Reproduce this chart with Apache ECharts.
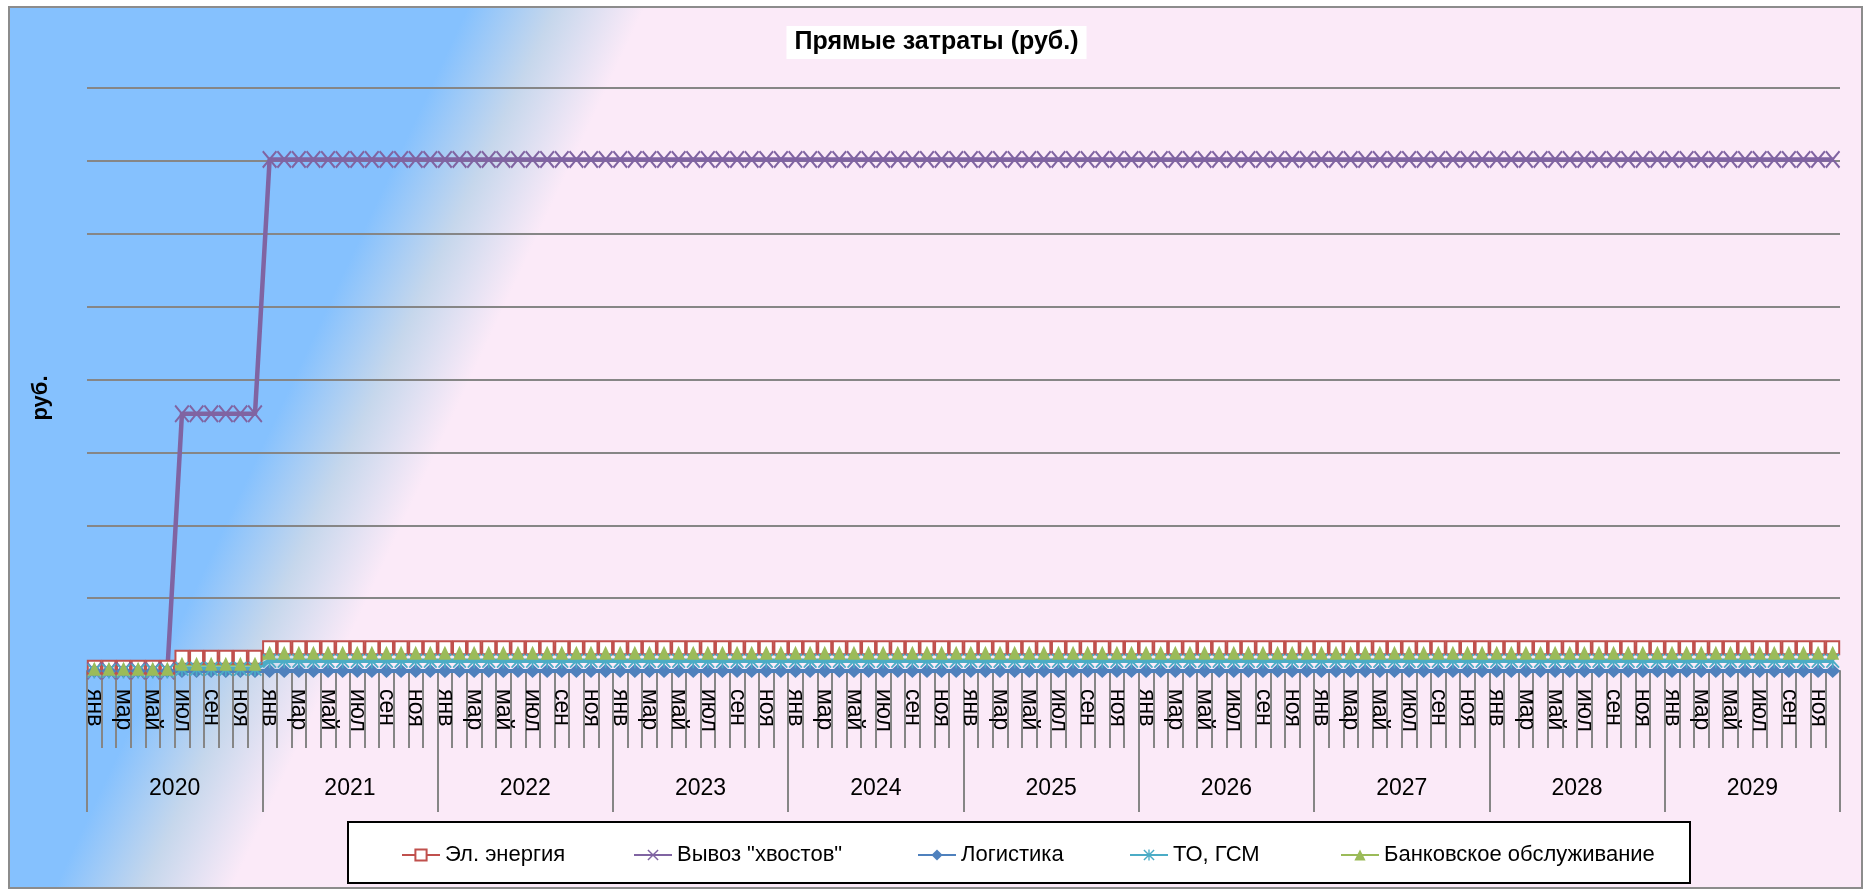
<!DOCTYPE html>
<html>
<head>
<meta charset="utf-8">
<title>Прямые затраты</title>
<script src="https://cdn.jsdelivr.net/npm/echarts@6/dist/echarts.min.js"></script>
<style>
  html, body { margin: 0; padding: 0; background: #ffffff; }
  #chart { width: 1873px; height: 890px; }
</style>
</head>
<body>
<div id="chart"></div>
<script>
// подписи оси
const months = ['янв', 'фев', 'мар', 'апр', 'май', 'июн', 'июл', 'авг', 'сен', 'окт', 'ноя', 'дек'];
const years = ['2020', '2021', '2022', '2023', '2024', '2025', '2026', '2027', '2028', '2029'];
const seriesNames = ['Эл. энергия', 'Вывоз "хвостов"', 'Логистика', 'ТО, ГСМ', 'Банковское обслуживание'];

// значения по месяцам (руб.), строка = год
const energy = [
  5000, 5000, 5000, 5000, 5000, 5000, 19000, 19000, 19000, 19000, 19000, 19000,
  32000, 32000, 32000, 32000, 32000, 32000, 32000, 32000, 32000, 32000, 32000, 32000,
  32000, 32000, 32000, 32000, 32000, 32000, 32000, 32000, 32000, 32000, 32000, 32000,
  32000, 32000, 32000, 32000, 32000, 32000, 32000, 32000, 32000, 32000, 32000, 32000,
  32000, 32000, 32000, 32000, 32000, 32000, 32000, 32000, 32000, 32000, 32000, 32000,
  32000, 32000, 32000, 32000, 32000, 32000, 32000, 32000, 32000, 32000, 32000, 32000,
  32000, 32000, 32000, 32000, 32000, 32000, 32000, 32000, 32000, 32000, 32000, 32000,
  32000, 32000, 32000, 32000, 32000, 32000, 32000, 32000, 32000, 32000, 32000, 32000,
  32000, 32000, 32000, 32000, 32000, 32000, 32000, 32000, 32000, 32000, 32000, 32000,
  32000, 32000, 32000, 32000, 32000, 32000, 32000, 32000, 32000, 32000, 32000, 32000
];
const tailings = [
  0, 0, 0, 0, 0, 0, 353000, 353000, 353000, 353000, 353000, 353000,
  702000, 702000, 702000, 702000, 702000, 702000, 702000, 702000, 702000, 702000, 702000, 702000,
  702000, 702000, 702000, 702000, 702000, 702000, 702000, 702000, 702000, 702000, 702000, 702000,
  702000, 702000, 702000, 702000, 702000, 702000, 702000, 702000, 702000, 702000, 702000, 702000,
  702000, 702000, 702000, 702000, 702000, 702000, 702000, 702000, 702000, 702000, 702000, 702000,
  702000, 702000, 702000, 702000, 702000, 702000, 702000, 702000, 702000, 702000, 702000, 702000,
  702000, 702000, 702000, 702000, 702000, 702000, 702000, 702000, 702000, 702000, 702000, 702000,
  702000, 702000, 702000, 702000, 702000, 702000, 702000, 702000, 702000, 702000, 702000, 702000,
  702000, 702000, 702000, 702000, 702000, 702000, 702000, 702000, 702000, 702000, 702000, 702000,
  702000, 702000, 702000, 702000, 702000, 702000, 702000, 702000, 702000, 702000, 702000, 702000
];
const logistics = [
  0, 0, 0, 0, 0, 0, 0, 0, 0, 0, 0, 0,
  0, 0, 0, 0, 0, 0, 0, 0, 0, 0, 0, 0,
  0, 0, 0, 0, 0, 0, 0, 0, 0, 0, 0, 0,
  0, 0, 0, 0, 0, 0, 0, 0, 0, 0, 0, 0,
  0, 0, 0, 0, 0, 0, 0, 0, 0, 0, 0, 0,
  0, 0, 0, 0, 0, 0, 0, 0, 0, 0, 0, 0,
  0, 0, 0, 0, 0, 0, 0, 0, 0, 0, 0, 0,
  0, 0, 0, 0, 0, 0, 0, 0, 0, 0, 0, 0,
  0, 0, 0, 0, 0, 0, 0, 0, 0, 0, 0, 0,
  0, 0, 0, 0, 0, 0, 0, 0, 0, 0, 0, 0
];
const fuel = [
  0, 0, 0, 0, 0, 0, 3000, 3000, 3000, 3000, 3000, 3000,
  14000, 14000, 14000, 14000, 14000, 14000, 14000, 14000, 14000, 14000, 14000, 14000,
  14000, 14000, 14000, 14000, 14000, 14000, 14000, 14000, 14000, 14000, 14000, 14000,
  14000, 14000, 14000, 14000, 14000, 14000, 14000, 14000, 14000, 14000, 14000, 14000,
  14000, 14000, 14000, 14000, 14000, 14000, 14000, 14000, 14000, 14000, 14000, 14000,
  14000, 14000, 14000, 14000, 14000, 14000, 14000, 14000, 14000, 14000, 14000, 14000,
  14000, 14000, 14000, 14000, 14000, 14000, 14000, 14000, 14000, 14000, 14000, 14000,
  14000, 14000, 14000, 14000, 14000, 14000, 14000, 14000, 14000, 14000, 14000, 14000,
  14000, 14000, 14000, 14000, 14000, 14000, 14000, 14000, 14000, 14000, 14000, 14000,
  14000, 14000, 14000, 14000, 14000, 14000, 14000, 14000, 14000, 14000, 14000, 14000
];
const banking = [
  3000, 3000, 3000, 3000, 3000, 3000, 10000, 10000, 10000, 10000, 10000, 10000,
  25000, 25000, 25000, 25000, 25000, 25000, 25000, 25000, 25000, 25000, 25000, 25000,
  25000, 25000, 25000, 25000, 25000, 25000, 25000, 25000, 25000, 25000, 25000, 25000,
  25000, 25000, 25000, 25000, 25000, 25000, 25000, 25000, 25000, 25000, 25000, 25000,
  25000, 25000, 25000, 25000, 25000, 25000, 25000, 25000, 25000, 25000, 25000, 25000,
  25000, 25000, 25000, 25000, 25000, 25000, 25000, 25000, 25000, 25000, 25000, 25000,
  25000, 25000, 25000, 25000, 25000, 25000, 25000, 25000, 25000, 25000, 25000, 25000,
  25000, 25000, 25000, 25000, 25000, 25000, 25000, 25000, 25000, 25000, 25000, 25000,
  25000, 25000, 25000, 25000, 25000, 25000, 25000, 25000, 25000, 25000, 25000, 25000,
  25000, 25000, 25000, 25000, 25000, 25000, 25000, 25000, 25000, 25000, 25000, 25000
];

// 120 месяцев: янв..дек по каждому году
const categories = [];
years.forEach(function (y) {
  months.forEach(function (m) { categories.push(m); });
});

const FONT = '"Liberation Sans", Arial, sans-serif';
const GRAY = '#868686';
const xMark = 'path://M0,0.9L0.9,0L5,4.1L9.1,0L10,0.9L5.9,5L10,9.1L9.1,10L5,5.9L0.9,10L0,9.1L4.1,5Z';
const starMark = 'path://M0,0.9L0.9,0L5,4.1L9.1,0L10,0.9L5.9,5L10,9.1L9.1,10L5,5.9L0.9,10L0,9.1L4.1,5Z M4.4,0L5.6,0L5.6,10L4.4,10Z';

const legendLeft = [396, 628, 912, 1124, 1335];

let myChart = echarts.init(document.getElementById('chart'));
myChart.setOption({
  animation: false,
  title: {
    text: 'Прямые затраты (руб.)',
    left: 'center',
    top: 26,
    backgroundColor: '#ffffff',
    padding: [4, 8],
    textStyle: { fontFamily: FONT, fontSize: 25, fontWeight: 'bold', color: '#000' }
  },
  legend: seriesNames.map(function (name, i) {
    return {
      data: [name],
      left: legendLeft[i],
      top: 839,
      itemWidth: 38,
      itemHeight: 14,
      textStyle: { fontFamily: FONT, fontSize: 22, color: '#000' }
    };
  }),
  graphic: [
    {
      type: 'rect',
      z: -10,
      silent: true,
      shape: { x: 9, y: 7, width: 1853, height: 881 },
      style: {
        fill: new echarts.graphic.LinearGradient(280, 408, 425, 476, [
          { offset: 0, color: '#85C1FE' },
          { offset: 0.5, color: '#C6D7EC' },
          { offset: 1, color: '#FBEAF8' }
        ], true),
        stroke: '#8C8C8C',
        lineWidth: 2
      }
    },
    {
      type: 'rect',
      z: 3,
      silent: true,
      shape: { x: 348, y: 822, width: 1342, height: 61 },
      style: { fill: '#ffffff', stroke: '#000000', lineWidth: 2 }
    },
    {
      type: 'text',
      x: 41,
      y: 398,
      rotation: Math.PI / 2,
      silent: true,
      style: {
        text: 'руб.',
        fontFamily: FONT,
        fontSize: 22,
        fontWeight: 'bold',
        fill: '#000',
        align: 'center',
        verticalAlign: 'middle'
      }
    }
  ],
  grid: {
    left: 87,
    right: 33,
    top: 88,
    bottom: 219,
    containLabel: false,
    outerBoundsMode: 'none'
  },
  xAxis: [
    {
      type: 'category',
      data: categories,
      boundaryGap: true,
      position: 'bottom',
      axisLine: { show: true, lineStyle: { color: GRAY, width: 2 } },
      axisTick: { show: true, interval: 0, length: 77, lineStyle: { color: GRAY, width: 2 } },
      axisLabel: {
        interval: 1,
        rotate: -90,
        margin: 18,
        fontFamily: FONT,
        fontSize: 23,
        color: '#000'
      },
      splitLine: { show: false }
    },
    {
      type: 'category',
      data: years,
      boundaryGap: true,
      position: 'bottom',
      offset: 0,
      axisLine: { show: false },
      axisTick: { show: true, interval: 0, length: 141, lineStyle: { color: GRAY, width: 2 } },
      axisLabel: { interval: 0, margin: 106, fontFamily: FONT, fontSize: 23, color: '#000' },
      splitLine: { show: false }
    }
  ],
  yAxis: {
    type: 'value',
    min: 0,
    max: 800000,
    interval: 100000,
    axisLine: { show: false },
    axisTick: { show: false },
    axisLabel: { show: false },
    splitLine: { show: true, lineStyle: { color: GRAY, width: 2 } }
  },
  series: [
    {
      name: seriesNames[0],
      type: 'line',
      data: energy,
      symbol: 'rect',
      symbolSize: 13,
      showAllSymbol: true,
      lineStyle: { color: '#C0504D', width: 4 },
      itemStyle: { color: '#ffffff', borderColor: '#C0504D', borderWidth: 2 }
    },
    {
      name: seriesNames[1],
      type: 'line',
      data: tailings,
      symbol: xMark,
      symbolSize: [15, 18],
      showAllSymbol: true,
      lineStyle: { color: '#8064A2', width: 4.5 },
      itemStyle: { color: '#8064A2' }
    },
    {
      name: seriesNames[2],
      type: 'line',
      data: logistics,
      symbol: 'diamond',
      symbolSize: [15, 14],
      showAllSymbol: true,
      lineStyle: { color: '#4F81BD', width: 4 },
      itemStyle: { color: '#4F81BD' }
    },
    {
      name: seriesNames[3],
      type: 'line',
      data: fuel,
      symbol: starMark,
      symbolSize: [14, 15],
      showAllSymbol: true,
      lineStyle: { color: '#4BACC6', width: 4.5 },
      itemStyle: { color: '#4BACC6' }
    },
    {
      name: seriesNames[4],
      type: 'line',
      data: banking,
      symbol: 'triangle',
      symbolSize: [13, 14],
      showAllSymbol: true,
      lineStyle: { color: '#9BBB59', width: 5 },
      itemStyle: { color: '#9BBB59' }
    }
  ]
});
</script>
</body>
</html>
